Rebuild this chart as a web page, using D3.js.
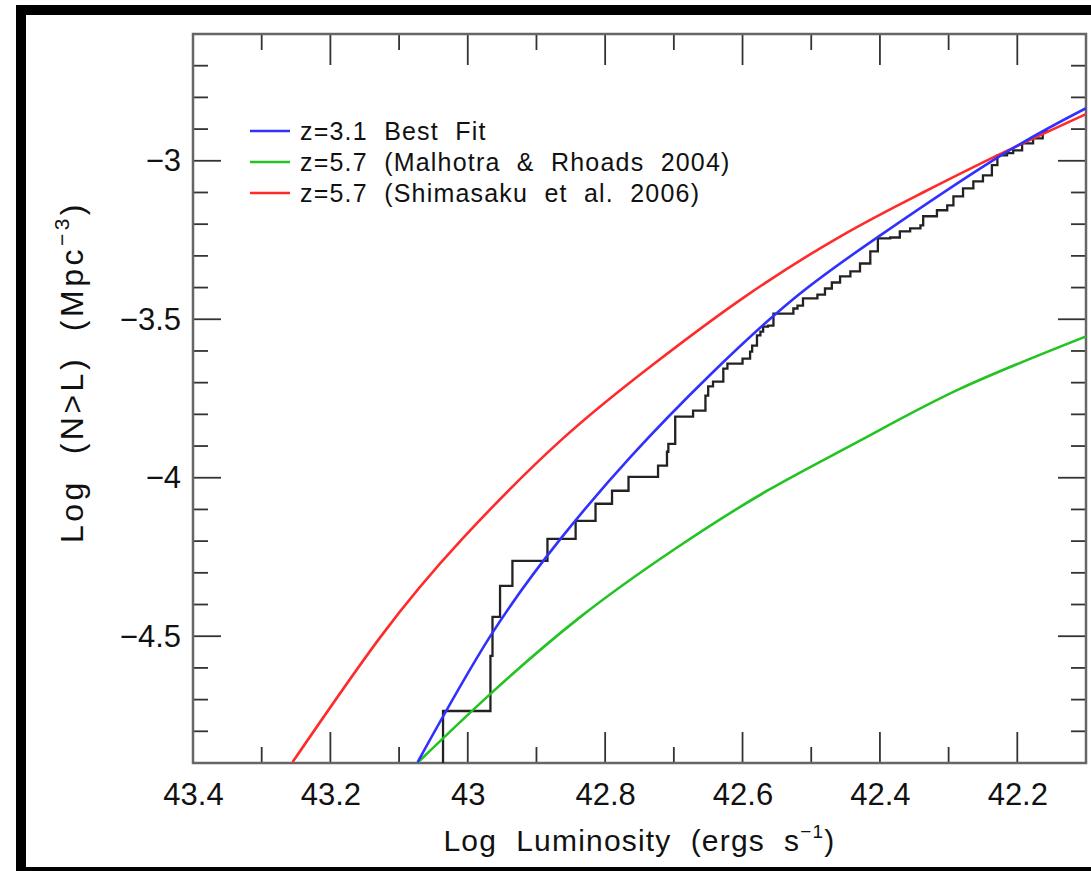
<!DOCTYPE html>
<html>
<head>
<meta charset="utf-8">
<script src="https://cdn.jsdelivr.net/npm/d3@7"></script>
<style>
  body { margin: 0; background: #fff; }
  svg text { font-family: "Liberation Sans", Arial, sans-serif; fill: #111; }
</style>
</head>
<body>
<div id="chart"></div>
<script>
// ticks
var xMajorTicks = [43.4, 43.2, 43.0, 42.8, 42.6, 42.4, 42.2];
var xTickLabels = ["43.4", "43.2", "43", "42.8", "42.6", "42.4", "42.2"];
var yMajorTicks = [-3, -3.5, -4, -4.5];
var yTickLabels = ["\u22123", "\u22123.5", "\u22124", "\u22124.5"];

// z=3.1 best fit
var blueL = [43.073, 42.967, 42.865, 42.763, 42.647, 42.526, 42.400, 42.229, 42.100];
var blueN = [-4.897, -4.499, -4.193, -3.934, -3.675, -3.436, -3.236, -2.990, -2.834];

// z=5.7 Malhotra & Rhoads 2004
var greenL = [43.072, 42.967, 42.836, 42.698, 42.564, 42.429, 42.283, 42.100];
var greenN = [-4.897, -4.682, -4.439, -4.224, -4.041, -3.883, -3.719, -3.554];

// z=5.7 Shimasaku et al. 2006
var redL = [43.255, 43.127, 43.008, 42.865, 42.734, 42.600, 42.458, 42.341, 42.229, 42.100];
var redN = [-4.897, -4.502, -4.193, -3.883, -3.649, -3.434, -3.239, -3.104, -2.983, -2.853];

// cumulative counts, each level starts at stepL[i]
var stepL = [43.036, 43.036, 42.967, 42.964, 42.953, 42.935, 42.884, 42.843, 42.814, 42.790,
             42.766, 42.723, 42.710, 42.708, 42.698, 42.672, 42.654, 42.650, 42.643, 42.628,
             42.622, 42.600, 42.589, 42.586, 42.579, 42.574, 42.570, 42.563, 42.555, 42.526,
             42.520, 42.512, 42.491, 42.480, 42.470, 42.458, 42.443, 42.429, 42.414, 42.403,
             42.385, 42.371, 42.356, 42.341, 42.337, 42.317, 42.302, 42.293, 42.279, 42.264,
             42.250, 42.237, 42.229, 42.215, 42.206, 42.193, 42.177, 42.163, 42.155];
var stepN = [-4.900, -4.736, -4.562, -4.439, -4.341, -4.262, -4.193, -4.136, -4.082, -4.041,
             -3.997, -3.962, -3.918, -3.893, -3.807, -3.788, -3.741, -3.712, -3.697, -3.656,
             -3.640, -3.624, -3.602, -3.583, -3.551, -3.539, -3.523, -3.520, -3.482, -3.466,
             -3.457, -3.434, -3.422, -3.403, -3.384, -3.365, -3.349, -3.324, -3.286, -3.245,
             -3.242, -3.223, -3.213, -3.204, -3.175, -3.156, -3.141, -3.112, -3.087, -3.065,
             -3.046, -3.014, -2.983, -2.976, -2.967, -2.945, -2.929, -2.907, -2.907];

var legendNames = ["z=3.1  Best  Fit", "z=5.7  (Malhotra  &  Rhoads  2004)", "z=5.7  (Shimasaku  et  al.  2006)"];
var legendColors = ["#3030ff", "#22c322", "#ff2a2a"];

const W = 1091, H = 871;
const margin = {top: 34, right: 5, bottom: 108, left: 193};
const width = W - margin.left - margin.right,
      height = H - margin.top - margin.bottom;

const svg = d3.select("#chart").append("svg")
    .attr("width", W)
    .attr("height", H);

// black border of the screenshot
svg.append("rect").attr("x", 16).attr("y", 5).attr("width", W - 16).attr("height", 10).attr("fill", "#000");
svg.append("rect").attr("x", 16).attr("y", 5).attr("width", 10).attr("height", H - 5).attr("fill", "#000");
svg.append("rect").attr("x", 16).attr("y", 867).attr("width", W - 16).attr("height", 4).attr("fill", "#000");

const g = svg.append("g")
    .attr("transform", `translate(${margin.left},${margin.top})`);

const x = d3.scaleLinear().domain([43.4, 42.1]).range([0, width]);
const y = d3.scaleLinear().domain([-4.9, -2.6]).range([height, 0]);

g.append("clipPath").attr("id", "clip")
  .append("rect").attr("width", width).attr("height", height);

// axes: major + minor ticks on all four sides
const xMinor = d3.range(43.4, 42.09, -0.1);
const yMinor = d3.range(-4.9, -2.59, 0.1);

function drawAxes() {
    const majLen = 31, minLen = 16;
    const tk = g.append("g").attr("stroke", "#333").attr("stroke-width", 1.8);
    xMinor.forEach(v => {
        var major = xMajorTicks.some(m => Math.abs(m - v) < 1e-6);
        var len = major ? majLen : minLen;
        tk.append("line").attr("x1", x(v)).attr("x2", x(v)).attr("y1", height).attr("y2", height - len);
        tk.append("line").attr("x1", x(v)).attr("x2", x(v)).attr("y1", 0).attr("y2", len);
    });
    yMinor.forEach(v => {
        var major = yMajorTicks.some(m => Math.abs(m - v) < 1e-6);
        var len = major ? 28 : 15;
        tk.append("line").attr("y1", y(v)).attr("y2", y(v)).attr("x1", 0).attr("x2", len);
        tk.append("line").attr("y1", y(v)).attr("y2", y(v)).attr("x1", width).attr("x2", width - len);
    });

    g.append("rect")
        .attr("width", width).attr("height", height)
        .attr("fill", "none").attr("stroke", "#666").attr("stroke-width", 2.5);

    // tick labels through the d3 axis generators
    const xAxis = g.append("g")
        .attr("transform", `translate(0,${height})`)
        .call(d3.axisBottom(x).tickValues(xMajorTicks)
              .tickFormat((d, i) => xTickLabels[i]).tickSize(0).tickPadding(20));
    xAxis.select(".domain").remove();
    xAxis.selectAll("text").attr("font-size", 31).attr("font-family", "Liberation Sans").attr("fill", "#111");

    const yAxis = g.append("g")
        .call(d3.axisLeft(y).tickValues(yMajorTicks)
              .tickFormat((d, i) => yTickLabels[i]).tickSize(0).tickPadding(12));
    yAxis.select(".domain").remove();
    yAxis.selectAll("text").attr("font-size", 31).attr("font-family", "Liberation Sans").attr("fill", "#111");
}
drawAxes();

// curves
const curve = d3.line()
    .x(d => x(d[0]))
    .y(d => y(d[1]))
    .curve(d3.curveNatural);

const plot = g.append("g").attr("clip-path", "url(#clip)");

function addCurve(L, N, color) {
    plot.append("path")
        .datum(L.map((l, i) => [l, N[i]]).reverse())
        .attr("d", curve)
        .attr("fill", "none")
        .attr("stroke", color)
        .attr("stroke-width", 2.6);
}

// step function
const stepLine = d3.line()
    .x(d => x(d[0]))
    .y(d => y(d[1]))
    .curve(d3.curveStepAfter);

plot.append("path")
    .datum(stepL.map((l, i) => [l, stepN[i]]))
    .attr("d", stepLine)
    .attr("fill", "none")
    .attr("stroke", "#222")
    .attr("stroke-width", 2.3);

addCurve(redL, redN, legendColors[2]);
addCurve(greenL, greenN, legendColors[1]);
addCurve(blueL, blueN, legendColors[0]);

// legend
const leg = g.append("g");
legendNames.forEach((name, i) => {
    var ly = 97 + i * 31;
    leg.append("line")
        .attr("x1", 57).attr("x2", 97)
        .attr("y1", ly).attr("y2", ly)
        .attr("stroke", legendColors[i]).attr("stroke-width", 2.6);
    leg.append("text")
        .attr("x", 107).attr("y", ly + 9)
        .attr("font-size", 25)
        .attr("letter-spacing", 1.2)
        .attr("xml:space", "preserve")
        .text(name);
});

// axis titles
const xt = svg.append("text")
    .attr("x", margin.left + width / 2)
    .attr("y", 851)
    .attr("text-anchor", "middle")
    .attr("font-size", 30)
    .attr("letter-spacing", 1.2)
    .attr("xml:space", "preserve");
xt.append("tspan").text("Log  Luminosity  (ergs  s");
xt.append("tspan").attr("dy", -13).attr("font-size", 19).text("\u22121");
xt.append("tspan").attr("dy", 13).text(")");

const yt = svg.append("text")
    .attr("transform", `translate(83,372) rotate(-90)`)
    .attr("text-anchor", "middle")
    .attr("font-size", 32)
    .attr("letter-spacing", 3.5)
    .attr("xml:space", "preserve");
yt.append("tspan").text("Log  (N>L)  (Mpc");
yt.append("tspan").attr("dy", -14).attr("font-size", 21).text("\u22123");
yt.append("tspan").attr("dy", 14).text(")");
</script>
</body>
</html>
